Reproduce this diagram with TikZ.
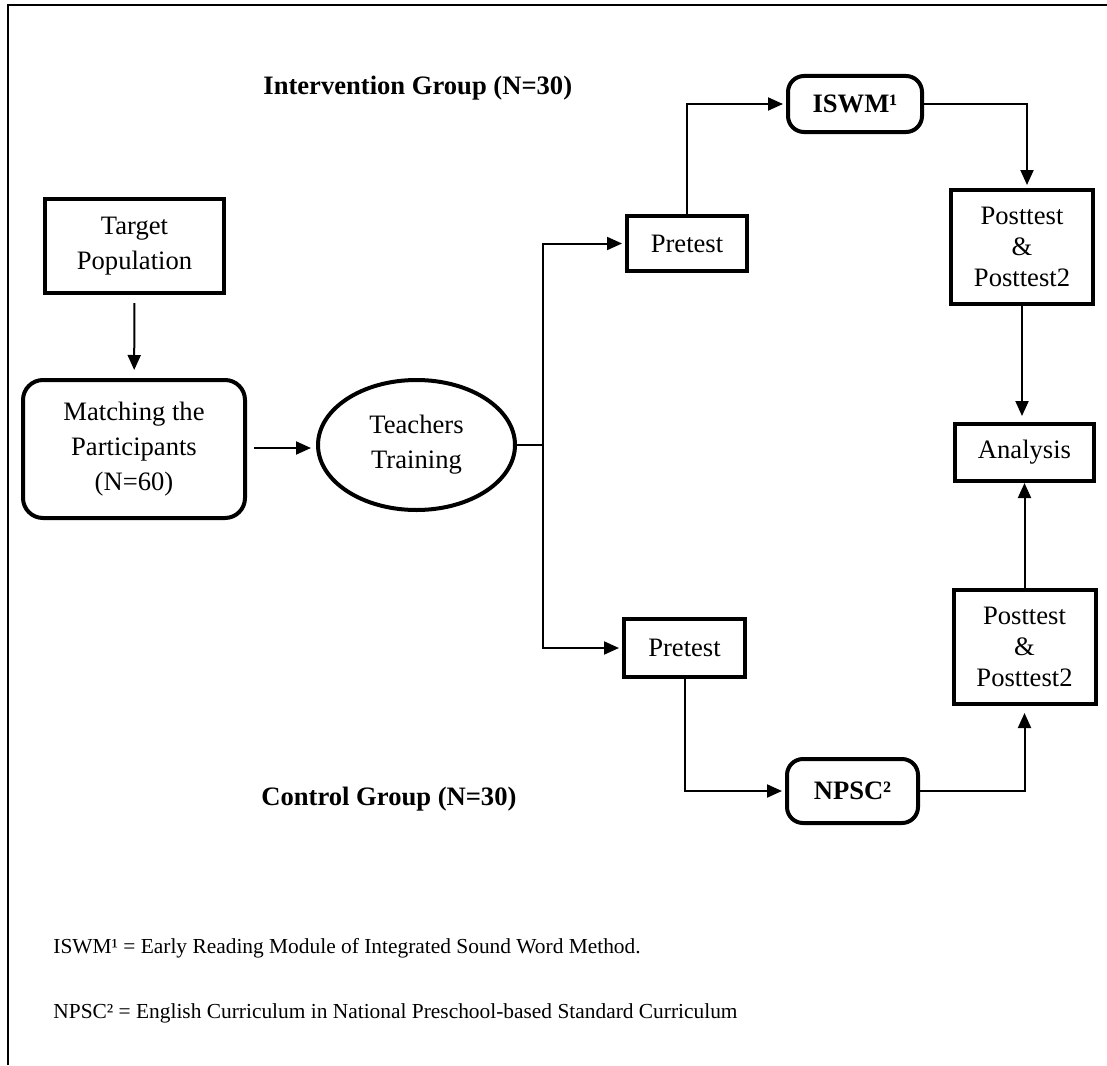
\documentclass[tikz,border=0pt]{standalone}
\usepackage{fontspec}
\setmainfont{Liberation Serif}
\usetikzlibrary{shapes.geometric,arrows.meta}

\begin{document}
\begin{tikzpicture}[x=0.5pt,y=-0.5pt,
    box/.style={draw, line width=2pt, align=center, inner sep=0pt, font=\fontsize{13.3}{17.5}\selectfont},
    rbox/.style={box, rounded corners=8pt},
    tbox/.style={box, font=\fontsize{13.3}{15.5}\selectfont},
    link/.style={line width=1pt},
    arr/.style={link, -{Triangle[length=7.5pt,width=6.5pt]}, shorten >=1.5pt},
    head/.style={font=\fontsize{13.3}{16}\selectfont\bfseries, anchor=base west, inner sep=0pt},
    note/.style={font=\fontsize{10.7}{12}\selectfont, anchor=base west, inner sep=0pt}]
    \useasboundingbox (0,0) rectangle (1107,1065);
    % Frame
    \draw[line width=1.2pt] (8,1065) -- (8,5) -- (1107,5);

    % Group titles
    \node[head] (intTitle) at (263,95) {Intervention Group (N=30)};
    \node[head] (ctlTitle) at (261,805) {Control Group (N=30)};

    % Left part
    \node[box, minimum width=89.5pt, minimum height=47pt] (target) at (134.5,246) {Target\\Population};
    \node[rbox, rounded corners=10pt, minimum width=111pt, minimum height=69pt] (match) at (134,449) {Matching the\\Participants\\(N=60)};
    \node[box, ellipse, minimum width=98.5pt, minimum height=65pt] (train) at (416.5,445) {Teachers\\Training};
    \coordinate (split) at (543,445);

    % Intervention branch
    \node[box, minimum width=60pt, minimum height=27.5pt] (preA) at (687,243.5) {Pretest};
    \node[rbox, minimum width=67pt, minimum height=28pt, font=\fontsize{13.3}{16}\selectfont\bfseries] (iswm) at (855,104) {ISWM¹};
    \node[tbox, minimum width=71pt, minimum height=57pt] (postA) at (1022,247) {Posttest\\\&\\Posttest2};

    % Analysis
    \node[box, minimum width=69.5pt, minimum height=28.5pt] (analysis) at (1024.5,452.5) {Analysis};

    % Control branch
    \node[box, minimum width=60.5pt, minimum height=29pt] (preB) at (684.5,648) {Pretest};
    \node[rbox, minimum width=65.5pt, minimum height=32pt, font=\fontsize{13.3}{16}\selectfont\bfseries] (npsc) at (852.5,791) {NPSC²};
    \node[tbox, minimum width=71pt, minimum height=57pt] (postB) at (1024.5,647) {Posttest\\\&\\Posttest2};

    % Notes
    \node[note] (noteA) at (53,953) {ISWM¹ = Early Reading Module of Integrated Sound Word Method.};
    \node[note] (noteB) at (53,1018) {NPSC² = English Curriculum in National Preschool-based Standard Curriculum};

    % Arrows
    \draw[arr, shorten <=4pt, shorten >=4pt] (target) -- (match);
    \draw[arr, shorten <=3.5pt, shorten >=2.5pt] (match.east |- 0,448) -- (train.west |- 0,448);
    \draw[link] (train.east) -- (split);
    \draw[arr] (split) |- (preA);
    \draw[arr] (split) |- (preB);
    \draw[arr] (preA.north) |- (iswm.west);
    \draw[arr] (iswm.east) -| ([xshift=2.5pt]postA.north);
    \draw[arr, shorten >=3pt] (postA.south) -- (postA.south |- analysis.north);
    \draw[arr] (preB.south) |- (npsc.west);
    \draw[arr, shorten >=3.5pt] (npsc.east) -| (postB.south);
    \draw[arr, shorten >=0pt] (postB.north) -- (postB.north |- analysis.south);
\end{tikzpicture}
\end{document}
